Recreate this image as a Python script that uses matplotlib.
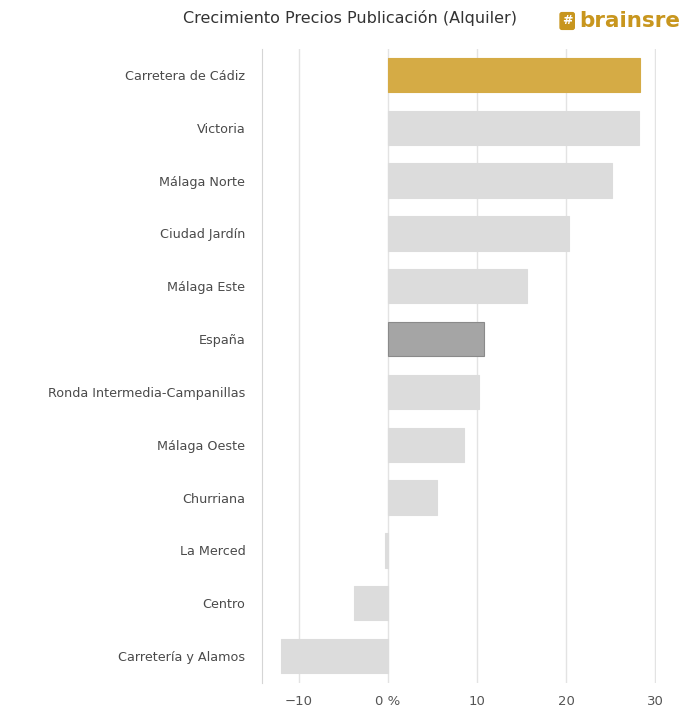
import matplotlib.pyplot as plt

zonas = ['Carretera de Cádiz', 'Victoria', 'Málaga Norte', 'Ciudad Jardín',
         'Málaga Este', 'España', 'Ronda Intermedia-Campanillas', 'Málaga Oeste',
         'Churriana', 'La Merced', 'Centro', 'Carretería y Alamos']
crecimiento = [28.3, 28.2, 25.2, 20.3, 15.6, 10.8, 10.2, 8.5, 5.5, -0.3, -3.8, -12.0]
xticks = [-10, 0, 10, 20, 30]
xticklabels = ['\u221210', '0 %', '10', '20', '30']

colores = []
bordes = []
for z in zonas:
    if z == 'Carretera de Cádiz':
        colores.append('#D5AB45'); bordes.append('#D5AB45')
    elif z == 'España':
        colores.append('#A5A5A5'); bordes.append('#8A8A8A')
    else:
        colores.append('#DCDCDC'); bordes.append('#DCDCDC')

fig = plt.figure(figsize=(6.9, 7.24), dpi=100)
ax = fig.add_axes([0.3797, 0.0573, 0.5713, 0.8756])

y = list(range(len(zonas)))
ax.barh(y, crecimiento, height=0.65, color=colores, edgecolor=bordes, linewidth=0.8, zorder=3)
ax.set_ylim(len(zonas) - 0.5, -0.5)
ax.set_xlim(-14.1, 30.1)

ax.set_xticks(xticks)
ax.set_xticklabels(xticklabels, fontsize=9.5, color='#555555')
ax.set_yticks(y)
ax.set_yticklabels(zonas, fontsize=9.2, color='#4A4A4A')
ax.tick_params(axis='y', length=0, pad=12)
ax.tick_params(axis='x', length=0, pad=9)
ax.grid(axis='x', color='#E3E3E3', linewidth=1, zorder=0)

for s in ['top', 'right', 'bottom']:
    ax.spines[s].set_visible(False)
ax.spines['left'].set_color('#D5D5D5')

fig.text(0.507, 0.975, 'Crecimiento Precios Publicación (Alquiler)', ha='center', va='center',
         fontsize=11.5, color='#333333')
fig.text(0.822, 0.971, '#', ha='center', va='center', fontsize=9, color='white', fontweight='bold',
         bbox=dict(boxstyle='round,pad=0.15', fc='#C8961E', ec='#C8961E'))
fig.text(0.84, 0.971, 'brainsre', ha='left', va='center', fontsize=15.5, color='#C8961E',
         fontweight='bold')

fig.savefig('out.png')
